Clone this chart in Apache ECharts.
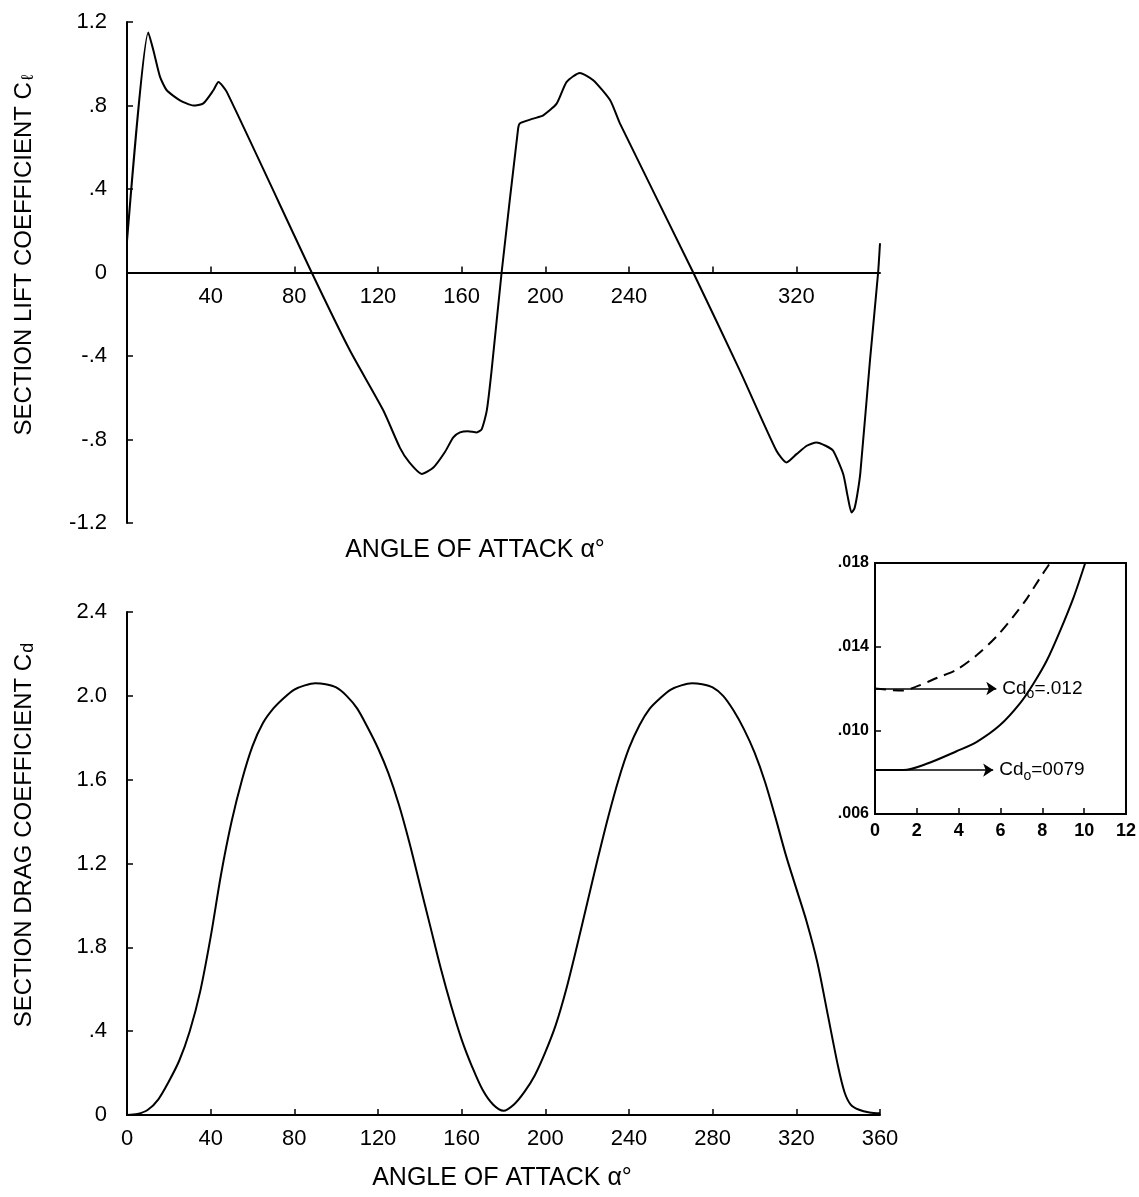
<!DOCTYPE html>
<html>
<head>
<meta charset="utf-8">
<script src="https://cdn.jsdelivr.net/npm/echarts@6/dist/echarts.min.js"></script>
<style>
html,body{margin:0;padding:0;background:#fff;}
#chart{width:1139px;height:1197px;}
</style>
</head>
<body>
<div id="chart"></div>
<script>
// ---------- DATA ----------
const liftAngle = [0, 10.2, 12.6, 15.8, 19, 25.3, 31.7, 36.5, 41.3, 43.7, 47.7, 88.3, 106.6, 122.5, 130.5, 135, 140.9, 146.5, 152, 156, 159.2, 163, 167.2, 169.6, 172, 174.3, 179.1, 187, 187.9, 194.2, 199, 205.4, 210.2, 216.5, 222.9, 231, 235.7, 270.7, 293, 310.5, 315.3, 320.1, 325, 329.6, 334, 337.6, 342.4, 344.5, 346.4, 347.8, 349.2, 350.6, 355.2, 359.1, 360];
const liftCoef  = [0.15, 1.15, 1.065, 0.937, 0.873, 0.825, 0.80, 0.81, 0.873, 0.913, 0.865, 0, -0.374, -0.66, -0.84, -0.91, -0.965, -0.934, -0.86, -0.79, -0.766, -0.76, -0.766, -0.75, -0.662, -0.47, 0, 0.69, 0.715, 0.737, 0.753, 0.809, 0.913, 0.956, 0.921, 0.825, 0.713, 0, -0.47, -0.854, -0.91, -0.87, -0.83, -0.814, -0.83, -0.854, -0.965, -1.07, -1.15, -1.13, -1.06, -0.96, -0.422, 0, 0.14];

const dragAngle = [0, 5, 10, 15, 20, 25, 30, 35, 40, 45, 50, 55, 60, 65, 70, 75, 80, 85, 90, 95, 100, 105, 110, 115, 120, 125, 130, 135, 140, 145, 150, 155, 160, 165, 170, 175, 180, 185, 190, 195, 200, 205, 210, 215, 220, 225, 230, 235, 240, 245, 250, 255, 260, 265, 270, 275, 280, 285, 290, 295, 300, 305, 310, 315, 320, 325, 330, 335, 340, 343, 346, 350, 355, 360];
const dragCoef  = [0, 0.005, 0.025, 0.075, 0.16, 0.26, 0.40, 0.59, 0.85, 1.15, 1.40, 1.60, 1.76, 1.87, 1.94, 1.99, 2.03, 2.05, 2.06, 2.055, 2.04, 2.00, 1.94, 1.85, 1.75, 1.63, 1.48, 1.30, 1.10, 0.90, 0.70, 0.52, 0.36, 0.23, 0.12, 0.05, 0.02, 0.05, 0.11, 0.19, 0.30, 0.43, 0.60, 0.80, 1.01, 1.22, 1.42, 1.60, 1.75, 1.86, 1.94, 1.99, 2.03, 2.05, 2.06, 2.055, 2.04, 2.00, 1.93, 1.84, 1.73, 1.59, 1.42, 1.24, 1.08, 0.92, 0.73, 0.48, 0.23, 0.11, 0.05, 0.025, 0.012, 0.008];

const insetDashX = [0, 1.3, 2, 2.95, 3.9, 4.87, 5.82, 6.62, 7.26, 7.9, 8.37];
const insetDashY = [0.012, 0.0119, 0.0121, 0.0125, 0.0129, 0.0136, 0.0145, 0.01545, 0.0163, 0.0173, 0.018];
const insetSolidX = [0, 1.36, 2.47, 3.9, 4.87, 5.98, 6.94, 7.58, 8.22, 8.86, 9.5, 10.05];
const insetSolidY = [0.0081, 0.0081, 0.0084, 0.0090, 0.00945, 0.01025, 0.0113, 0.01224, 0.01335, 0.01478, 0.01637, 0.018];

// arrows (Cd0 levels) and their labels
const cd0Levels = [0.012, 0.0081];
const cd0ArrowEnd = [5.8, 5.65];
const cd0Labels = ['Cd{s|o}=.012', 'Cd{s|o}=0079'];

// tick labels
const liftTickValues = [-1.2, -0.8, -0.4, 0, 0.4, 0.8, 1.2];
const liftTickLabels = ['-1.2', '-.8', '-.4', '0', '.4', '.8', '1.2'];
const liftXLabelValues = [40, 80, 120, 160, 200, 240, 320];
const liftXTickValues = [40, 80, 120, 160, 200, 240, 280, 320];
const dragTickValues = [0, 0.4, 0.8, 1.2, 1.6, 2.0, 2.4];
const dragTickLabels = ['0', '.4', '1.8', '1.2', '1.6', '2.0', '2.4'];
const dragXLabels = ['0', '40', '80', '120', '160', '200', '240', '280', '320', '360'];
const insetYLabelValues = [0.006, 0.010, 0.014, 0.018];
const insetYLabels = ['.006', '.010', '.014', '.018'];

// ---------- CHART ----------
const zip = (a, b) => a.map((v, i) => [v, b[i]]);
const pick = (vals, labs) => (v) => {
  let best = 0, d = Infinity;
  vals.forEach((t, i) => { const e = Math.abs(t - v); if (e < d) { d = e; best = i; } });
  return d < 1e-6 ? labs[best] : '';
};
const FONT = 'Liberation Sans';
const black = '#000';
const axisLineStyle = { color: black, width: 2 };

const chart = echarts.init(document.getElementById('chart'), null, { renderer: 'canvas' });
const option = {
  animation: false,
  backgroundColor: '#fff',
  textStyle: { fontFamily: FONT, color: black },
  grid: [
    { left: 127, top: 22, width: 753, height: 501 },
    { left: 127, top: 612, width: 753, height: 503 },
    { left: 875, top: 563, width: 251, height: 251, show: true, borderColor: black, borderWidth: 2, backgroundColor: 'transparent' }
  ],
  xAxis: [
    { gridIndex: 0, type: 'value', min: 0, max: 360, interval: 40, position: 'bottom', offset: -250.5,
      axisLine: { show: true, onZero: false, lineStyle: axisLineStyle },
      axisTick: { show: true, inside: true, length: 6, customValues: liftXTickValues, lineStyle: { color: black, width: 1.5 } },
      axisLabel: { customValues: liftXLabelValues, fontSize: 22, color: black, margin: 13, fontFamily: FONT },
      splitLine: { show: false } },
    { gridIndex: 1, type: 'value', min: 0, max: 360, interval: 40,
      axisLine: { show: true, lineStyle: axisLineStyle },
      axisTick: { show: true, inside: true, length: 6, lineStyle: { color: black, width: 1.5 } },
      axisLabel: { fontSize: 22, color: black, margin: 13, fontFamily: FONT,
        formatter: (v) => dragXLabels[Math.round(v / 40)] },
      splitLine: { show: false } },
    { gridIndex: 2, type: 'value', min: 0, max: 12, interval: 2,
      axisLine: { show: true, lineStyle: axisLineStyle },
      axisTick: { show: true, inside: true, length: 6, customValues: [2, 4, 6, 8, 10], lineStyle: { color: black, width: 1.5 } },
      axisLabel: { fontSize: 18, color: black, margin: 8, fontFamily: FONT, fontWeight: 'bold' },
      splitLine: { show: false } }
  ],
  yAxis: [
    { gridIndex: 0, type: 'value', min: -1.2, max: 1.2, interval: 0.4,
      axisLine: { show: true, onZero: false, lineStyle: axisLineStyle },
      axisTick: { show: true, inside: true, length: 6, lineStyle: { color: black, width: 1.5 } },
      axisLabel: { fontSize: 22, color: black, margin: 20, fontFamily: FONT, formatter: pick(liftTickValues, liftTickLabels) },
      splitLine: { show: false } },
    { gridIndex: 1, type: 'value', min: 0, max: 2.4, interval: 0.4,
      axisLine: { show: true, onZero: false, lineStyle: axisLineStyle },
      axisTick: { show: true, inside: true, length: 6, lineStyle: { color: black, width: 1.5 } },
      axisLabel: { fontSize: 22, color: black, margin: 20, fontFamily: FONT, formatter: pick(dragTickValues, dragTickLabels) },
      splitLine: { show: false } },
    { gridIndex: 2, type: 'value', min: 0.006, max: 0.018,
      axisLine: { show: true, onZero: false, lineStyle: axisLineStyle },
      axisTick: { show: true, inside: true, length: 6, customValues: [0.010, 0.014], lineStyle: { color: black, width: 1.5 } },
      axisLabel: { customValues: insetYLabelValues, fontSize: 16, color: black, margin: 6, fontFamily: FONT, fontWeight: 'bold',
        formatter: pick(insetYLabelValues, insetYLabels) },
      splitLine: { show: false } }
  ],
  graphic: [
    { type: 'text', x: 475, y: 550, style: { text: 'ANGLE OF ATTACK α°', font: '25px "' + FONT + '"', fill: black, textAlign: 'center', textVerticalAlign: 'middle' } },
    { type: 'text', x: 502, y: 1178, style: { text: 'ANGLE OF ATTACK α°', font: '25px "' + FONT + '"', fill: black, textAlign: 'center', textVerticalAlign: 'middle' } },
    { type: 'text', x: 24, y: 255, rotation: Math.PI / 2,
      style: { text: 'SECTION LIFT COEFFICIENT C{s|ℓ}', font: '24px "' + FONT + '"', fill: black, textAlign: 'center', textVerticalAlign: 'middle',
        rich: { s: { fontSize: 17, fontFamily: FONT, fill: black, padding: [8, 0, 0, 2] } } } },
    { type: 'text', x: 24, y: 835, rotation: Math.PI / 2,
      style: { text: 'SECTION DRAG COEFFICIENT C{s|d}', font: '24px "' + FONT + '"', fill: black, textAlign: 'center', textVerticalAlign: 'middle',
        rich: { s: { fontSize: 18, fontFamily: FONT, fill: black, padding: [8, 0, 0, 1] } } } }
  ],
  series: [
    { type: 'line', xAxisIndex: 0, yAxisIndex: 0, data: zip(liftAngle, liftCoef), showSymbol: false, smooth: 0.2,
      lineStyle: { color: black, width: 2 } },
    { type: 'line', xAxisIndex: 1, yAxisIndex: 1, data: zip(dragAngle, dragCoef), showSymbol: false, smooth: 0.3,
      lineStyle: { color: black, width: 2 } },
    { type: 'line', xAxisIndex: 2, yAxisIndex: 2, data: zip(insetDashX, insetDashY), showSymbol: false, smooth: 0.3,
      lineStyle: { color: black, width: 2, type: [11, 7] },
      markLine: { silent: true, symbol: ['none', 'arrow'], symbolSize: 10,
        lineStyle: { color: black, width: 1.5, type: 'solid' },
        label: { show: true, position: 'end', distance: 6, formatter: cd0Labels[0], color: black, fontSize: 19, fontFamily: FONT,
          rich: { s: { fontSize: 14, fontFamily: FONT, color: black, padding: [12, 0, 0, 0] } } },
        data: [[{ coord: [0, cd0Levels[0]] }, { coord: [cd0ArrowEnd[0], cd0Levels[0]] }]] } },
    { type: 'line', xAxisIndex: 2, yAxisIndex: 2, data: zip(insetSolidX, insetSolidY), showSymbol: false, smooth: 0.3,
      lineStyle: { color: black, width: 2 },
      markLine: { silent: true, symbol: ['none', 'arrow'], symbolSize: 10,
        lineStyle: { color: black, width: 1.5, type: 'solid' },
        label: { show: true, position: 'end', distance: 6, formatter: cd0Labels[1], color: black, fontSize: 19, fontFamily: FONT,
          rich: { s: { fontSize: 14, fontFamily: FONT, color: black, padding: [12, 0, 0, 0] } } },
        data: [[{ coord: [0, cd0Levels[1]] }, { coord: [cd0ArrowEnd[1], cd0Levels[1]] }]] } }
  ]
};
chart.setOption(option);
</script>
</body>
</html>
